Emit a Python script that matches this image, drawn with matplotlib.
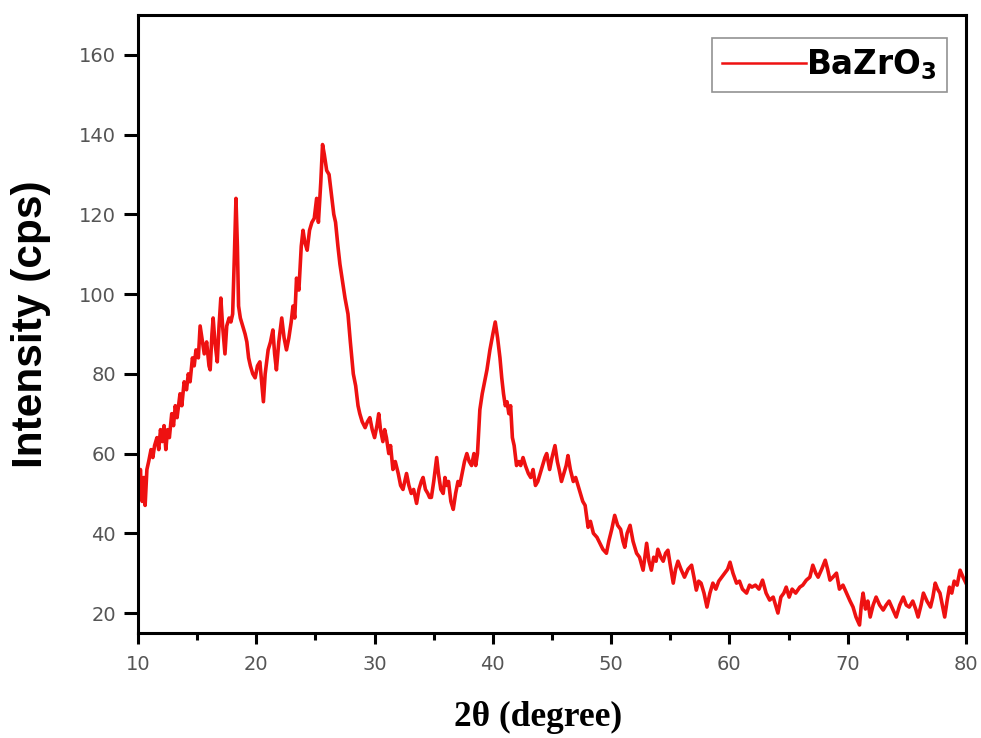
import matplotlib
matplotlib.use("Agg")
import matplotlib.pyplot as plt
from matplotlib.ticker import MultipleLocator

# values
two_theta = [
    10.0, 10.1, 10.2, 10.35, 10.5, 10.6, 10.75, 10.9, 11.1, 11.25, 11.4, 11.6, 11.75, 11.9,
    12.05, 12.2, 12.35, 12.5, 12.65, 12.85, 13.0, 13.15, 13.3, 13.55, 13.7, 13.9, 14.1, 14.25,
    14.4, 14.6, 14.75, 14.9, 15.1, 15.25, 15.45, 15.6, 15.8, 16.0, 16.1, 16.25, 16.35, 16.5,
    16.7, 16.85, 17.0, 17.15, 17.35, 17.5, 17.7, 17.85, 18.0, 18.15, 18.28, 18.4, 18.5, 18.65,
    18.85, 19.05, 19.2, 19.35, 19.5, 19.7, 19.9, 20.1, 20.3, 20.45, 20.6, 20.75, 21.0, 21.2,
    21.4, 21.55, 21.7, 21.9, 22.15, 22.35, 22.55, 22.75, 22.95, 23.1, 23.25, 23.4, 23.6, 23.8,
    23.95, 24.1, 24.3, 24.5, 24.7, 24.9, 25.1, 25.25, 25.45, 25.6, 25.75, 25.95, 26.15, 26.35,
    26.55, 26.7, 26.9, 27.07, 27.3, 27.5, 27.75, 27.95, 28.2, 28.4, 28.6, 28.75, 28.95, 29.2,
    29.4, 29.6, 29.8, 30.0, 30.2, 30.35, 30.5, 30.7, 30.85, 31.0, 31.2, 31.35, 31.55, 31.75,
    32.0, 32.2, 32.4, 32.55, 32.7, 32.9, 33.1, 33.3, 33.55, 33.75, 33.95, 34.1, 34.3, 34.5,
    34.65, 34.8, 35.0, 35.25, 35.4, 35.6, 35.8, 35.95, 36.1, 36.25, 36.45, 36.65, 36.85, 37.05,
    37.2, 37.4, 37.6, 37.8, 38.0, 38.2, 38.4, 38.55, 38.7, 38.9, 39.1, 39.3, 39.5, 39.75,
    40.0, 40.2, 40.4, 40.6, 40.75, 40.9, 41.05, 41.2, 41.35, 41.5, 41.65, 41.8, 42.0, 42.2,
    42.35, 42.55, 42.75, 43.0, 43.2, 43.4, 43.6, 43.8, 44.0, 44.2, 44.4, 44.55, 44.8, 45.0,
    45.25, 45.45, 45.6, 45.8, 46.0, 46.2, 46.35, 46.55, 46.8, 47.0, 47.2, 47.4, 47.6, 47.8,
    48.05, 48.25, 48.5, 48.8, 49.05, 49.3, 49.6, 49.8, 50.05, 50.3, 50.55, 50.8, 51.0, 51.15,
    51.35, 51.6, 51.85, 52.15, 52.4, 52.7, 52.85, 53.0, 53.2, 53.4, 53.6, 53.8, 53.95, 54.2,
    54.4, 54.6, 54.8, 55.0, 55.25, 55.45, 55.65, 55.9, 56.2, 56.5, 56.8, 57.0, 57.2, 57.4,
    57.6, 57.85, 58.1, 58.35, 58.6, 58.85, 59.1, 59.35, 59.6, 59.85, 60.05, 60.3, 60.6, 60.85,
    61.1, 61.45, 61.7, 61.9, 62.2, 62.5, 62.8, 63.1, 63.4, 63.7, 63.9, 64.1, 64.35, 64.6,
    64.8, 65.05, 65.3, 65.6, 65.95, 66.2, 66.5, 66.8, 67.05, 67.3, 67.5, 67.8, 68.1, 68.3,
    68.5, 68.75, 69.05, 69.3, 69.6, 69.9, 70.2, 70.45, 70.7, 71.0, 71.15, 71.3, 71.5, 71.7,
    71.9, 72.15, 72.4, 72.7, 73.0, 73.25, 73.5, 73.8, 74.1, 74.4, 74.7, 74.95, 75.2, 75.5,
    75.75, 75.95, 76.2, 76.4, 76.7, 77.0, 77.2, 77.4, 77.6, 77.8, 78.0, 78.2, 78.4, 78.6,
    78.8, 79.0, 79.25, 79.5, 79.75, 80.0,
]
intensity = [
    55, 50, 56, 48, 54, 47, 56, 58, 61, 59, 62, 64, 61, 66,
    63, 67, 61, 66, 64, 70, 67, 72, 69, 75, 72, 78, 76, 80,
    78, 84, 82, 86, 84, 92, 88, 85, 88, 82, 81, 90, 94, 88,
    83, 92, 99, 92, 85, 92, 94, 93, 95, 110, 124, 112, 97, 94,
    92, 90, 88, 84, 82, 80, 79, 82, 83, 78, 73, 80, 86, 88,
    91, 85, 81, 88, 94, 89, 86, 89, 93, 97, 94, 104, 101, 112,
    116, 113, 111, 116, 118, 119, 124, 118, 128, 137.5, 135, 131, 130, 125,
    120, 118, 112, 107.5, 103, 99, 95, 88, 80, 77, 72, 70, 68, 66.5,
    68, 69, 66, 64, 67, 70, 66, 63, 66, 64, 60, 62, 56, 58,
    55, 52, 51, 53, 55, 52, 50, 51, 47.5, 51, 53, 54, 51, 50,
    49, 49, 53, 59, 55, 51, 50, 54, 52, 53, 48, 46, 50, 53,
    52, 55, 58, 60, 58, 57, 60, 57, 60, 71, 75, 78, 81, 86,
    90, 93, 89, 84, 79, 75, 72, 73, 70, 72, 64, 62, 57, 58,
    57, 59, 57, 55, 54, 56, 52, 53, 55, 57, 59, 60, 56, 59,
    62, 58, 56, 53, 55, 57, 59.5, 56, 53, 54, 52, 50, 48, 47,
    41.5, 43, 40, 39, 37.5, 36, 35, 38, 41, 44.5, 42, 41, 38, 36.5,
    40, 42, 38, 35, 34, 30.75, 34, 37.5, 33, 30.75, 34, 33, 36, 34,
    33, 35, 35.75, 32, 27.5, 31, 33, 31, 29, 31, 32, 29, 25.75, 28,
    27.5, 25, 21.5, 25, 27.5, 26, 28, 29, 30, 31, 32.75, 30, 27.5, 28,
    26, 25, 27, 26.5, 27, 26, 28.25, 25, 23.25, 24, 22, 20, 24, 25,
    26.5, 24, 26, 25, 26.5, 27, 28.25, 29, 32, 30, 29, 31, 33.25, 31,
    28.25, 29, 30, 26, 27, 25, 23, 21.5, 19, 17, 22, 25, 21, 23,
    19, 22, 24, 22, 20.75, 22, 23, 21, 19, 22, 24, 22, 21.5, 23,
    21, 19, 22, 25, 23, 21.5, 24, 27.5, 26, 25, 22, 19, 23, 26.5,
    25, 28, 27, 30.75, 29, 27.5,
]
x_ticks = [10, 20, 30, 40, 50, 60, 70, 80]
y_ticks = [20, 40, 60, 80, 100, 120, 140, 160]
series_label = r"BaZrO$_\mathbf{3}$"

plt.rcParams["font.family"] = ["DejaVu Sans"]
plt.rcParams["mathtext.fontset"] = "dejavusans"

fig = plt.figure(figsize=(9.81, 7.38), dpi=100)
ax = fig.add_axes([0.1407, 0.1423, 0.844, 0.8374])

ax.plot(two_theta, intensity, color="#ee1111", linewidth=2.6, label=series_label)

ax.set_xlim(10, 80)
ax.set_ylim(15, 170)
ax.set_xticks(x_ticks)
ax.set_yticks(y_ticks)
ax.xaxis.set_minor_locator(MultipleLocator(5))

for side in ["left", "right", "top", "bottom"]:
    ax.spines[side].set_linewidth(2.2)
    ax.spines[side].set_color("black")

ax.tick_params(axis="x", which="major", direction="out", length=8, width=2.2,
               labelsize=14, labelcolor="#555555", pad=8)
ax.tick_params(axis="x", which="minor", direction="out", length=5, width=2.2)
ax.tick_params(axis="y", which="major", direction="out", length=10, width=2.2,
               labelsize=14, labelcolor="#555555", pad=6)
ax.tick_params(top=False, right=False)

ax.set_ylabel("Intensity (cps)", fontsize=30.5, fontweight="bold", labelpad=20,
              family=["Liberation Sans", "DejaVu Sans"])
fig.text(538 / 981, 1 - 717 / 738, "2θ (degree)", ha="center", va="center",
         fontsize=25.5, fontweight="bold", family=["Liberation Serif", "DejaVu Serif"])

leg = ax.legend(loc="upper right", bbox_to_anchor=(0.977, 0.9628), borderaxespad=0,
                fancybox=False, frameon=True, handlelength=2.6,
                handletextpad=0.0, borderpad=0.3,
                prop={"family": "DejaVu Sans", "weight": "bold", "size": 23.5})
leg.get_frame().set_edgecolor("#777777")
leg.get_frame().set_linewidth(1.2)
leg.legend_handles[0].set_linewidth(1.8)

fig.savefig("out.png", dpi=100)
